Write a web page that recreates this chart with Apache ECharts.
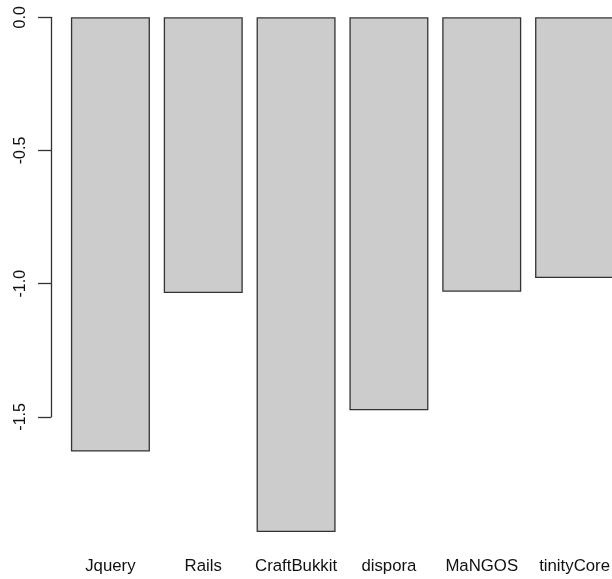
<!DOCTYPE html>
<html><head><meta charset="utf-8">
<script src="https://cdn.jsdelivr.net/npm/echarts@6/dist/echarts.min.js"></script>
<style>html,body{margin:0;padding:0;background:#fff;overflow:hidden;width:612px;height:579px}#c{width:621px;height:579px}</style>
</head><body><div id="c"></div>
<script>
const categories = ['Jquery','Rails','CraftBukkit','dispora','MaNGOS','tinityCore'];
const values = [-1.63, -1.035, -1.932, -1.475, -1.03, -0.979];
const yTicks = [0, -0.5, -1.0, -1.5];

const chart = echarts.init(document.getElementById('c'), null, {renderer:'canvas'});
const font = 'Liberation Sans, Arial, sans-serif';
chart.setOption({
  animation:false,
  grid:[
    {left:64, right:0, top:17.3, height:532.8, containLabel:false},
    {left:51, width:1, top:17.3, height:399.6, containLabel:false}
  ],
  xAxis:[
    {type:'category', gridIndex:0, data:categories, axisLine:{show:false}, axisTick:{show:false},
     axisLabel:{color:'#111', fontFamily:font, fontSize:16.8, margin:8, interval:0}},
    {type:'value', gridIndex:1, show:false}
  ],
  yAxis:[
    {type:'value', gridIndex:0, min:-2, max:0, show:false},
    {type:'value', gridIndex:1, min:-1.5, max:0, interval:0.5, splitLine:{show:false},
     axisLine:{show:true, lineStyle:{color:'#333', width:1.3}},
     axisTick:{show:true, length:13, lineStyle:{color:'#333', width:1.3}},
     axisLabel:{rotate:90, color:'#111', fontFamily:font, fontSize:16, margin:22,
       formatter:v=>{const t=yTicks.find(x=>Math.abs(x-v)<1e-9); return (t===undefined?v:t).toFixed(1);}}}
  ],
  series:[{
    type:'bar', xAxisIndex:0, yAxisIndex:0, data:values, barCategoryGap:'14.9%',
    itemStyle:{color:'#cccccc', borderColor:'#333', borderWidth:1.3}
  }]
});
</script></body></html>
